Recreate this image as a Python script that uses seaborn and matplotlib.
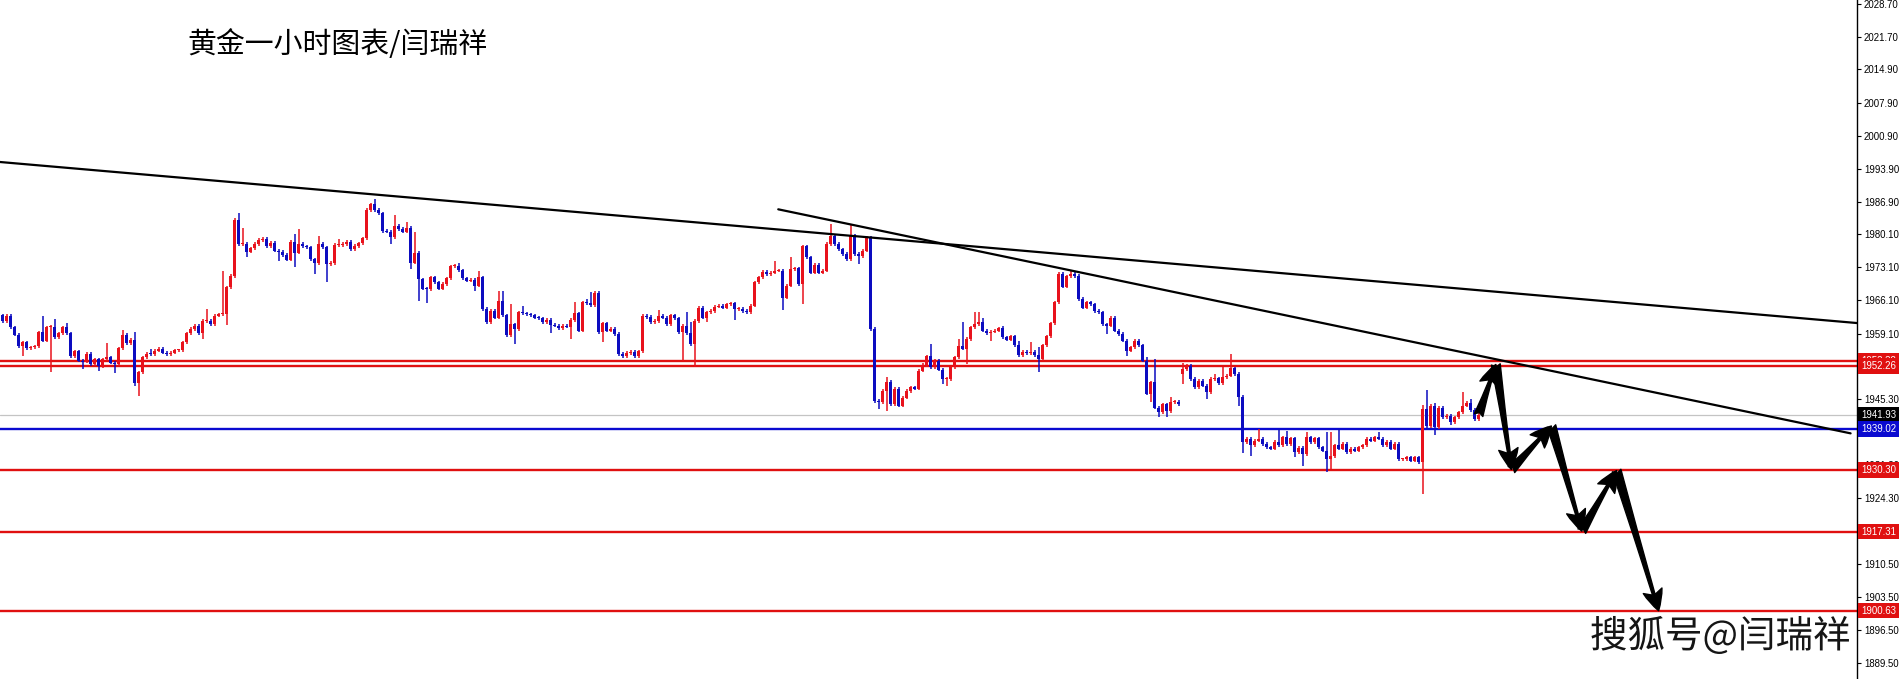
import numpy as np
import pandas as pd
import seaborn as sns
import matplotlib.pyplot as plt
import matplotlib.transforms as mtransforms
from matplotlib import patheffects

sns.set_theme(style="white")
plt.rcParams['font.family'] = ['Noto Sans CJK SC', 'DejaVu Sans']

# hourly gold candles (close of each bar)
first_open = 1963.0
closes = [
    1961.7, 1962.9, 1960.4, 1958.9, 1956.5, 1957.3, 1956.0, 1956.2, 1956.4, 1959.4,
    1957.6, 1960.4, 1960.6, 1958.3, 1959.2, 1960.4, 1959.2, 1954.4, 1955.4, 1953.4,
    1953.2, 1954.8, 1952.7, 1953.7, 1952.3, 1953.7, 1954.1, 1953.0, 1952.7, 1956.0,
    1958.8, 1957.1, 1957.8, 1948.7, 1950.9, 1954.1, 1954.9, 1954.8, 1955.5, 1955.9,
    1955.1, 1954.7, 1955.1, 1955.6, 1955.6, 1957.3, 1959.2, 1960.1, 1960.8, 1959.2,
    1961.8, 1961.8, 1961.1, 1962.9, 1963.2, 1963.2, 1968.9, 1971.3, 1983.1, 1978.0,
    1978.0, 1976.4, 1977.1, 1978.0, 1978.9, 1979.1, 1977.6, 1978.3, 1976.6, 1976.4,
    1975.7, 1974.7, 1978.5, 1976.2, 1978.0, 1977.5, 1977.3, 1974.8, 1974.0, 1978.0,
    1977.3, 1973.8, 1974.0, 1977.8, 1977.8, 1978.0, 1978.5, 1977.0, 1977.6, 1978.2,
    1979.2, 1985.2, 1986.4, 1985.2, 1984.5, 1980.8, 1980.6, 1979.4, 1981.9, 1981.2,
    1980.6, 1981.5, 1974.1, 1976.2, 1970.6, 1968.6, 1968.5, 1971.0, 1969.9, 1968.6,
    1969.6, 1970.8, 1973.3, 1973.4, 1972.5, 1970.8, 1970.3, 1970.5, 1969.2, 1971.0,
    1964.3, 1961.5, 1963.9, 1962.5, 1966.0, 1963.0, 1958.8, 1961.1, 1960.1, 1963.6,
    1963.4, 1963.2, 1963.0, 1962.5, 1962.3, 1961.5, 1962.0, 1960.9, 1960.8, 1960.3,
    1960.8, 1960.6, 1962.0, 1963.4, 1959.7, 1965.7, 1965.5, 1965.1, 1967.7, 1959.4,
    1961.3, 1959.7, 1960.1, 1959.0, 1954.8, 1954.4, 1955.0, 1955.3, 1954.4, 1955.4,
    1962.9, 1962.6, 1961.5, 1961.8, 1962.9, 1962.5, 1961.1, 1963.0, 1962.3, 1959.4,
    1960.8, 1959.2, 1956.9, 1961.8, 1964.6, 1962.5, 1963.6, 1963.9, 1964.8, 1965.0,
    1964.6, 1965.3, 1965.5, 1964.3, 1964.4, 1963.9, 1963.6, 1965.0, 1969.9, 1971.0,
    1972.2, 1971.7, 1972.0, 1972.4, 1972.4, 1966.7, 1969.2, 1972.7, 1972.9, 1969.6,
    1977.5, 1975.2, 1972.0, 1973.6, 1972.0, 1972.4, 1978.0, 1979.8, 1978.0, 1976.9,
    1975.9, 1974.8, 1979.8, 1975.9, 1975.5, 1976.6, 1979.4, 1960.1, 1944.9, 1944.6,
    1947.0, 1948.9, 1944.2, 1947.5, 1943.9, 1945.6, 1947.0, 1947.8, 1947.5, 1951.3,
    1952.5, 1954.3, 1952.0, 1953.4, 1951.5, 1949.5, 1949.5, 1952.0, 1954.1, 1956.5,
    1955.9, 1958.0, 1960.4, 1961.1, 1961.5, 1959.7, 1959.2, 1959.5, 1959.7, 1960.2,
    1958.3, 1957.8, 1958.5, 1956.6, 1954.6, 1955.2, 1955.0, 1955.3, 1954.6, 1953.7,
    1956.6, 1958.5, 1961.3, 1965.7, 1971.7, 1969.0, 1971.2, 1971.6, 1971.3, 1966.4,
    1964.6, 1965.7, 1965.3, 1963.9, 1963.6, 1961.1, 1960.8, 1962.5, 1959.7, 1959.0,
    1957.6, 1955.5, 1956.2, 1957.6, 1956.6, 1953.4, 1946.4, 1948.8, 1943.5, 1942.5,
    1944.2, 1942.8, 1944.6, 1944.7, 1944.2, 1951.6, 1952.3, 1949.5, 1947.8, 1949.2,
    1948.1, 1946.7, 1949.5, 1949.7, 1948.7, 1949.9, 1950.2, 1951.8, 1950.6, 1945.7,
    1936.2, 1936.9, 1935.5, 1936.5, 1936.9, 1935.8, 1935.1, 1934.8, 1936.2, 1935.5,
    1937.2, 1935.8, 1937.0, 1934.1, 1935.0, 1933.7, 1937.2, 1936.2, 1937.0, 1935.1,
    1934.4, 1932.6, 1933.2, 1935.5, 1934.8, 1935.8, 1934.1, 1934.8, 1934.4, 1935.1,
    1935.5, 1936.9, 1936.5, 1937.2, 1936.9, 1935.5, 1936.2, 1934.8, 1935.8, 1932.6,
    1932.6, 1933.0, 1932.3, 1933.0, 1932.0, 1943.2, 1939.5, 1943.9, 1939.3, 1943.5,
    1941.4, 1941.8, 1940.4, 1941.4, 1942.5, 1943.9, 1944.5, 1943.0, 1941.1, 1941.9,
]
gap_opens = {295: 1950.6}  # weekend gap

wick_highs = {
    10: 1962.9, 13: 1962.2, 16: 1961.3, 26: 1957.1, 30: 1959.9, 33: 1959.5, 37: 1955.9,
    51: 1964.3, 55: 1972.4, 59: 1984.5, 60: 1981.5, 73: 1980.1, 74: 1981.2, 79: 1979.8,
    84: 1979.1, 93: 1987.6, 98: 1984.1, 101: 1982.7, 103: 1980.5, 114: 1974.0, 119: 1972.4,
    124: 1968.2, 125: 1968.2, 127: 1965.3, 130: 1965.0, 143: 1965.7, 146: 1966.4,
    147: 1967.8, 164: 1964.1, 171: 1963.6, 172: 1961.5, 193: 1974.5, 197: 1975.2,
    207: 1982.2, 212: 1982.2, 221: 1949.9, 232: 1956.9, 239: 1957.9, 240: 1961.5,
    243: 1963.6, 244: 1963.6, 245: 1962.5, 250: 1960.8, 254: 1957.6, 257: 1957.4,
    259: 1956.2, 265: 1972.0, 267: 1972.4, 268: 1972.3, 286: 1954.1, 288: 1953.7,
    292: 1945.7, 295: 1953.0, 303: 1950.6, 305: 1952.0, 307: 1954.8, 314: 1939.0,
    319: 1939.0, 321: 1938.6, 326: 1938.4, 331: 1938.4, 332: 1938.4, 334: 1939.0,
    344: 1938.4, 355: 1944.0, 356: 1947.1, 358: 1944.5, 365: 1946.7, 367: 1945.4,
}
wick_lows = {
    5: 1954.4, 12: 1951.1, 20: 1951.6, 24: 1951.3, 28: 1950.8, 33: 1948.1, 34: 1945.9,
    50: 1958.0, 56: 1960.9, 61: 1975.2, 69: 1974.5, 73: 1973.1, 78: 1971.7, 81: 1969.9,
    97: 1978.0, 102: 1972.7, 104: 1966.0, 106: 1965.5, 118: 1968.2, 128: 1956.9,
    137: 1959.2, 142: 1958.0, 150: 1957.3, 170: 1953.4, 173: 1952.0, 176: 1961.5,
    183: 1962.0, 195: 1964.1, 200: 1965.3, 214: 1973.8, 219: 1943.2, 221: 1942.8,
    235: 1948.5, 236: 1948.1, 241: 1952.7, 247: 1957.6, 259: 1951.1, 276: 1959.0,
    281: 1954.4, 287: 1944.6, 289: 1941.6, 291: 1941.4, 295: 1948.5, 301: 1945.3,
    309: 1943.9, 310: 1934.0, 312: 1933.3, 323: 1933.0, 325: 1931.2, 331: 1929.8,
    332: 1930.5, 354: 1931.5, 355: 1925.3, 358: 1937.6, 362: 1939.8, 368: 1940.6,
}

red_levels = [1953.32, 1952.26, 1930.30, 1917.31, 1900.63]
blue_level = 1939.02
bid_level = 1941.93

# trend lines: (bar index, price) end points
trend_x = [[-0.7, 463.6], [193.9, 462.0]]
trend_y = [[1995.34, 1961.34], [1985.35, 1938.05]]

# hand drawn zig-zag forecast
path_x = [369.0, 373.3, 377.2, 387.2, 394.8, 403.5, 414.0]
path_y = [1941.9, 1952.6, 1930.4, 1939.6, 1917.4, 1930.2, 1900.6]

y_ticks = [2028.70, 2021.70, 2014.90, 2007.90, 2000.90, 1993.90, 1986.90, 1980.10,
           1973.10, 1966.10, 1959.10, 1952.30, 1945.30, 1938.30, 1931.30, 1924.30,
           1917.30, 1910.50, 1903.50, 1896.50, 1889.50]
hidden_ticks = [1952.30, 1917.30]  # fully under a price tag

title = "黄金一小时图表/闫瑞祥"
watermark = "搜狐号@闫瑞祥"

UP = "#e8121c"
DOWN = "#0c0cc0"
AXIS_FONT = "Liberation Sans"

# build the OHLC table
df = pd.DataFrame({"close": closes})
df["open"] = [first_open] + closes[:-1]
for k, v in gap_opens.items():
    df.loc[k, "open"] = v
pad = 0.35
df["high"] = df[["open", "close"]].max(axis=1) + pad
df["low"] = df[["open", "close"]].min(axis=1) - pad
for k, v in wick_highs.items():
    df.loc[k, "high"] = max(v, df.loc[k, "high"])
for k, v in wick_lows.items():
    df.loc[k, "low"] = min(v, df.loc[k, "low"])
df["color"] = np.where(df["close"] >= df["open"], UP, DOWN)
idx = np.arange(len(df))

fig = plt.figure(figsize=(19.03, 6.79), dpi=100)
ax = fig.add_axes([0, 0, 1857 / 1903, 1])
ax.set_facecolor("white")

# horizontal levels
ax.axhline(bid_level, color="#c4c4c4", lw=0.9, zorder=1)
for lv in red_levels:
    ax.axhline(lv, color="#e01010", lw=1.7, zorder=1)
ax.axhline(blue_level, color="#0a0ad0", lw=1.7, zorder=1)

# candles
ax.vlines(idx, df["low"], df["high"], colors=df["color"], lw=1.1, zorder=2)
body = (df["close"] - df["open"]).abs().clip(lower=0.22)
ax.bar(idx, body, bottom=df[["open", "close"]].min(axis=1), width=0.62,
       color=df["color"], linewidth=0, zorder=3)

# trend lines via seaborn
tl = pd.DataFrame({
    "x": [v for pair in trend_x for v in pair],
    "y": [v for pair in trend_y for v in pair],
    "line": [0, 0, 1, 1],
})
sns.lineplot(data=tl, x="x", y="y", units="line", estimator=None, color="black",
             lw=1.6, ax=ax, legend=False, zorder=4)

# forecast arrows
for j in range(len(path_x) - 1):
    ax.annotate("", xy=(path_x[j + 1], path_y[j + 1]), xytext=(path_x[j], path_y[j]),
                arrowprops=dict(arrowstyle="fancy,head_length=0.75,head_width=0.7,tail_width=0.32",
                                color="black", shrinkA=0, shrinkB=0, mutation_scale=20),
                zorder=6)

ax.set_xlim(-0.675, 463.6)
ax.set_ylim(1886.19, 2029.54)
ax.set_xlabel("")
ax.set_ylabel("")
ax.set_xticks([])

ax.yaxis.tick_right()
ax.set_yticks(y_ticks)
ax.set_yticklabels(["" if t in hidden_ticks else f"{t:.2f}" for t in y_ticks],
                   fontsize=6.9, family=AXIS_FONT)
ax.tick_params(axis="y", direction="out", length=3, width=0.8, pad=2, colors="black",
               right=True, left=False)
for s in ["left", "top", "bottom"]:
    ax.spines[s].set_visible(False)
ax.spines["right"].set_color("black")
ax.spines["right"].set_linewidth(1.0)

# price tags on the axis
tr = mtransforms.blended_transform_factory(ax.transAxes, ax.transData)
tags = [(red_levels[0], "#e01010"), (red_levels[1], "#e01010"), (bid_level, "black"),
        (blue_level, "#0a0ad0"), (red_levels[2], "#e01010"), (red_levels[3], "#e01010"),
        (red_levels[4], "#e01010")]
for k, (lv, c) in enumerate(tags):
    ax.text(1.0022, lv, f"{lv:.2f}", transform=tr, ha="left", va="center",
            fontsize=6.9, family=AXIS_FONT, color="white", clip_on=False, zorder=10 + k,
            bbox=dict(boxstyle="square,pad=0.3", fc=c, ec="none"))

fig.text(187 / 1903, 1 - 45 / 679, title, fontsize=20.8, color="black", va="center", ha="left")
fig.text(1590 / 1903, 1 - 637 / 679, watermark, fontsize=27, color="#151515",
         va="center", ha="left",
         path_effects=[patheffects.withStroke(linewidth=3, foreground="white")])

fig.savefig("out.png", dpi=100, facecolor="white")
